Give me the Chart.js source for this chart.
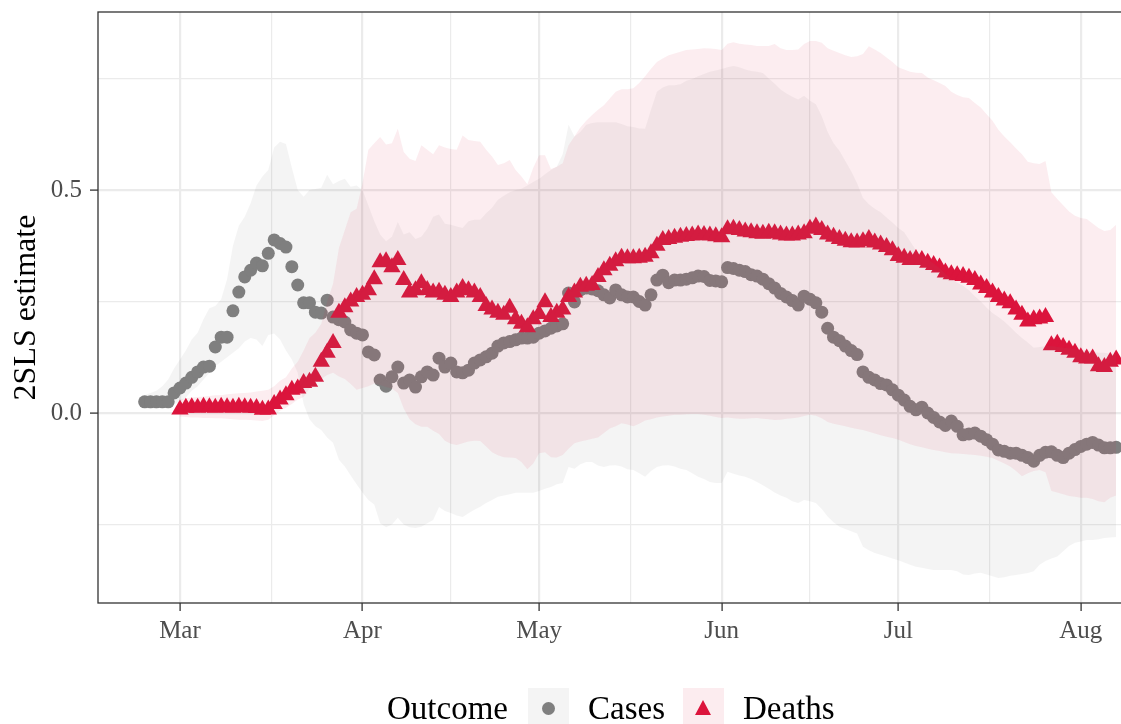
<!DOCTYPE html>
<html>
<head>
<meta charset="utf-8">
<script src="https://cdn.jsdelivr.net/npm/chart.js@4.4.1/dist/chart.umd.min.js"></script>
<style>
  html, body { margin: 0; padding: 0; background: #fff; overflow: hidden; }
  #wrap { position: relative; width: 1121px; height: 724px; overflow: hidden; }
  #chart { position: absolute; left: 0; top: 0; }
  .lg { position: absolute; font-family: "Liberation Serif", "Times New Roman", serif; font-size: 33px; line-height: 33px; color: #000; top: 692px; white-space: nowrap; }
  .key { position: absolute; top: 688px; width: 41px; height: 40px; }
  .dot { position: absolute; width: 13px; height: 13px; border-radius: 50%; background: #7f7f7f; left: 14px; top: 13.5px; }
  .tri { position: absolute; width: 0; height: 0; left: 12px; top: 12px; border-left: 8.5px solid transparent; border-right: 8.5px solid transparent; border-bottom: 15px solid #dc143c; }
</style>
</head>
<body>
<div id="wrap">
  <canvas id="chart" width="1150" height="724"></canvas>
  <span class="lg" style="left:387px">Outcome</span>
  <div class="key" style="left:528px; background:#f4f4f4"><div class="dot"></div></div>
  <span class="lg" style="left:588px">Cases</span>
  <div class="key" style="left:683px; background:#fcecef"><div class="tri"></div></div>
  <span class="lg" style="left:743px">Deaths</span>
</div>
<script>
// --- Data (daily 2SLS estimates and 95% bands) ---
const casesStart  = '2020-02-24';
const deathsStart = '2020-03-01';
const monthStarts = ['2020-03-01', '2020-04-01', '2020-05-01', '2020-06-01', '2020-07-01', '2020-08-01'];
const monthLabels = ['Mar', 'Apr', 'May', 'Jun', 'Jul', 'Aug'];
const yMajor = [0, 0.5];
const yMinor = [-0.25, 0.25, 0.75];

const casesEst = [
  0.025, 0.025, 0.025, 0.025, 0.025, 0.045,
  0.056, 0.067, 0.08, 0.092, 0.103, 0.105, 0.148, 0.17, 0.17, 0.229,
  0.271, 0.305, 0.32, 0.336, 0.33, 0.358, 0.388, 0.38, 0.372, 0.328,
  0.287, 0.247, 0.247, 0.226, 0.224, 0.253, 0.215, 0.209, 0.204, 0.186,
  0.179, 0.175, 0.137, 0.13, 0.074, 0.06, 0.081, 0.103, 0.067, 0.074,
  0.058, 0.081, 0.092, 0.085, 0.123, 0.103, 0.112, 0.092, 0.09, 0.096,
  0.112, 0.119, 0.126, 0.134, 0.15, 0.157, 0.16, 0.164, 0.168, 0.168,
  0.17, 0.179, 0.184, 0.19, 0.195, 0.2, 0.269, 0.249, 0.276, 0.28,
  0.278, 0.274, 0.265, 0.258, 0.276, 0.265, 0.26, 0.26, 0.25, 0.242,
  0.265, 0.298, 0.309, 0.292, 0.298, 0.298, 0.3, 0.303, 0.307, 0.306,
  0.297, 0.296, 0.294, 0.326, 0.324, 0.32, 0.317, 0.31, 0.307, 0.3,
  0.29, 0.28, 0.268, 0.26, 0.252, 0.242, 0.262, 0.255, 0.247, 0.226,
  0.19, 0.17, 0.162, 0.15, 0.14, 0.131, 0.092, 0.08, 0.074, 0.066,
  0.063, 0.052, 0.04, 0.029, 0.015, 0.007, 0.013, 0.0, -0.01, -0.02,
  -0.028, -0.018, -0.03, -0.049, -0.047, -0.045, -0.052, -0.06, -0.07, -0.083,
  -0.086, -0.09, -0.09, -0.095, -0.1, -0.108, -0.095, -0.088, -0.087, -0.095,
  -0.1, -0.09, -0.082, -0.075, -0.07, -0.066, -0.072, -0.078, -0.078, -0.077
];
const casesLo = [
  0.01, 0.01, 0.01, 0.012, 0.015, 0.02,
  0.025, 0.035, 0.05, 0.06, 0.075, 0.09, 0.105, 0.115, 0.125, 0.135,
  0.145, 0.16, 0.168, 0.165, 0.15, 0.175, 0.178, 0.165, 0.14, 0.12,
  0.09, 0.02, -0.014, -0.03, -0.038, -0.055, -0.067, -0.105, -0.12, -0.14,
  -0.16, -0.178, -0.195, -0.205, -0.247, -0.256, -0.25, -0.235, -0.25, -0.256,
  -0.258, -0.255, -0.247, -0.24, -0.211, -0.22, -0.224, -0.23, -0.233, -0.225,
  -0.217, -0.21, -0.202, -0.195, -0.188, -0.185, -0.182, -0.179, -0.179, -0.179,
  -0.179, -0.175, -0.17, -0.166, -0.16, -0.157, -0.121, -0.125, -0.115, -0.11,
  -0.11, -0.118, -0.121, -0.118, -0.117, -0.12, -0.126, -0.128, -0.135, -0.143,
  -0.13, -0.121, -0.118, -0.117, -0.12, -0.125, -0.128, -0.135, -0.143, -0.148,
  -0.155, -0.157, -0.157, -0.132, -0.136, -0.14, -0.143, -0.148, -0.155, -0.162,
  -0.17, -0.178, -0.185, -0.19, -0.198, -0.202, -0.195, -0.198, -0.202, -0.215,
  -0.232, -0.245, -0.255, -0.26, -0.265, -0.27, -0.3, -0.308, -0.314, -0.318,
  -0.322, -0.326, -0.33, -0.335, -0.34, -0.345, -0.347, -0.35, -0.352, -0.352,
  -0.352, -0.352, -0.355, -0.362, -0.363, -0.36, -0.358, -0.362, -0.366, -0.37,
  -0.368, -0.365, -0.363, -0.361, -0.359, -0.355, -0.34, -0.332, -0.326, -0.322,
  -0.31, -0.298, -0.291, -0.288, -0.285, -0.285, -0.283, -0.28, -0.279, -0.278
];
const casesHi = [
  0.04, 0.045, 0.05, 0.06, 0.075, 0.1,
  0.12, 0.14, 0.165, 0.18, 0.21, 0.235, 0.24, 0.255, 0.3, 0.375,
  0.42, 0.44, 0.47, 0.51, 0.53, 0.545, 0.595, 0.608, 0.603, 0.55,
  0.5, 0.485, 0.5, 0.502, 0.505, 0.534, 0.513, 0.52, 0.525, 0.507,
  0.51, 0.5, 0.465, 0.43, 0.4, 0.385, 0.395, 0.428, 0.4, 0.405,
  0.39, 0.395, 0.413, 0.44, 0.445, 0.424, 0.422, 0.418, 0.415, 0.43,
  0.433, 0.433, 0.448, 0.46, 0.478, 0.487, 0.495, 0.5, 0.503, 0.51,
  0.518, 0.525, 0.535, 0.545, 0.552, 0.58, 0.646, 0.62, 0.63, 0.646,
  0.65, 0.652, 0.652, 0.652, 0.652, 0.648, 0.643, 0.641, 0.638, 0.637,
  0.68, 0.72, 0.73, 0.735, 0.735, 0.737, 0.745, 0.749, 0.755, 0.76,
  0.765, 0.768, 0.771, 0.775, 0.778, 0.775, 0.77, 0.767, 0.765, 0.762,
  0.75, 0.738, 0.725, 0.716, 0.709, 0.703, 0.711, 0.7, 0.692, 0.665,
  0.63, 0.605, 0.588, 0.565, 0.542, 0.515, 0.482, 0.468, 0.458, 0.45,
  0.438, 0.427, 0.415, 0.405, 0.385, 0.365, 0.355, 0.345, 0.335, 0.325,
  0.312, 0.3, 0.292, 0.285, 0.275, 0.262, 0.25, 0.236, 0.224, 0.215,
  0.205, 0.193, 0.18, 0.168, 0.158, 0.146, 0.148, 0.15, 0.15, 0.148,
  0.146, 0.145, 0.143, 0.14, 0.14, 0.138, 0.135, 0.135, 0.133, 0.132
];

const deathsEst = [
  0.008, 0.012, 0.013, 0.012, 0.014, 0.013, 0.012, 0.014, 0.013, 0.012,
  0.014, 0.013, 0.012, 0.011, 0.007, 0.008, 0.02, 0.03, 0.04, 0.052,
  0.055, 0.067, 0.07, 0.081, 0.115, 0.135, 0.157, 0.225, 0.237, 0.25,
  0.26, 0.265, 0.275, 0.3, 0.338, 0.34, 0.327, 0.343, 0.298, 0.27,
  0.275, 0.291, 0.276, 0.27, 0.272, 0.265, 0.26, 0.27, 0.28, 0.275,
  0.27, 0.26, 0.24, 0.232, 0.225, 0.22, 0.236, 0.21, 0.2, 0.192,
  0.21, 0.222, 0.248, 0.215, 0.225, 0.232, 0.26, 0.27, 0.283, 0.285,
  0.287, 0.305, 0.32, 0.33, 0.34, 0.348, 0.347, 0.347, 0.348, 0.35,
  0.358, 0.375, 0.388, 0.39, 0.393, 0.395, 0.397, 0.398, 0.4, 0.399,
  0.398, 0.396, 0.394, 0.412, 0.413, 0.41, 0.407, 0.405, 0.403, 0.402,
  0.404, 0.403, 0.4, 0.398, 0.398, 0.4, 0.403, 0.413, 0.418, 0.41,
  0.4, 0.395, 0.39, 0.386, 0.383, 0.382, 0.385, 0.39, 0.382, 0.378,
  0.372, 0.365, 0.352, 0.348, 0.343, 0.345, 0.343, 0.337, 0.332, 0.326,
  0.315, 0.311, 0.309, 0.307, 0.303, 0.298, 0.288, 0.28, 0.27, 0.26,
  0.252, 0.246, 0.232, 0.22, 0.205, 0.21, 0.212, 0.215, 0.152, 0.155,
  0.148, 0.142, 0.135, 0.125, 0.122, 0.122, 0.105, 0.103, 0.115, 0.12
];
const deathsLo = [
  -0.008, -0.009, -0.01, -0.01, -0.011, -0.011, -0.012, -0.012, -0.013, -0.014,
  -0.015, -0.015, -0.016, -0.017, -0.018, -0.015, -0.005, 0.005, 0.012, 0.02,
  0.03, 0.036, 0.055, 0.068, 0.076, 0.085, 0.09, 0.082, 0.076, 0.065,
  0.052, 0.056, 0.06, 0.066, 0.063, 0.058, 0.055, 0.045, 0.01, -0.014,
  -0.025, -0.031, -0.031, -0.04, -0.047, -0.062, -0.069, -0.072, -0.068, -0.064,
  -0.062, -0.063, -0.075, -0.088, -0.095, -0.099, -0.1, -0.101, -0.11, -0.126,
  -0.113, -0.09, -0.088, -0.099, -0.1, -0.094, -0.08, -0.068, -0.064, -0.061,
  -0.058, -0.055, -0.045, -0.035, -0.03, -0.023, -0.026, -0.03, -0.024, -0.017,
  -0.014, -0.01, -0.008, -0.006, -0.004, -0.004, -0.003, -0.002, -0.002, -0.004,
  -0.006, -0.009, -0.011, -0.01, -0.012, -0.013, -0.013, -0.012, -0.011, -0.013,
  -0.014, -0.016, -0.015, -0.013, -0.012, -0.01, -0.007, -0.004, -0.006, -0.012,
  -0.02, -0.024, -0.027, -0.03, -0.033, -0.036, -0.038, -0.042, -0.046, -0.05,
  -0.053, -0.056, -0.06, -0.065, -0.07, -0.074, -0.077, -0.08, -0.083, -0.085,
  -0.088, -0.09, -0.091, -0.092, -0.093, -0.094, -0.096, -0.098, -0.101, -0.107,
  -0.113, -0.12, -0.13, -0.142, -0.135, -0.13, -0.128, -0.133, -0.175, -0.178,
  -0.182, -0.186, -0.188, -0.19, -0.19, -0.193, -0.198, -0.2, -0.19, -0.185
];
const deathsHi = [
  0.03, 0.033, 0.035, 0.036, 0.037, 0.038, 0.04, 0.04, 0.042, 0.043,
  0.044, 0.045, 0.046, 0.048, 0.05, 0.052, 0.06, 0.072, 0.08, 0.1,
  0.115, 0.14, 0.168, 0.18, 0.2, 0.25, 0.29, 0.37, 0.41, 0.45,
  0.458, 0.515, 0.59, 0.605, 0.619, 0.602, 0.605, 0.637, 0.585, 0.57,
  0.565, 0.6, 0.59, 0.58, 0.6, 0.595, 0.592, 0.59, 0.622, 0.612,
  0.61, 0.608, 0.59, 0.575, 0.556, 0.56, 0.567, 0.545, 0.53, 0.513,
  0.55, 0.578, 0.578, 0.547, 0.552, 0.56, 0.6, 0.62, 0.64, 0.655,
  0.668, 0.68, 0.69, 0.705, 0.72, 0.726, 0.726, 0.728, 0.74, 0.755,
  0.772, 0.787, 0.795, 0.802, 0.806, 0.81, 0.814, 0.815, 0.816, 0.818,
  0.817, 0.816, 0.814, 0.828, 0.831, 0.828, 0.826, 0.825, 0.823, 0.823,
  0.823, 0.827, 0.818, 0.814, 0.814, 0.815, 0.827, 0.834, 0.834, 0.83,
  0.818, 0.812, 0.807, 0.802, 0.798, 0.8, 0.805, 0.822, 0.815, 0.807,
  0.797, 0.787, 0.775, 0.77, 0.765, 0.763, 0.762, 0.752, 0.746, 0.74,
  0.733, 0.72, 0.713, 0.708, 0.706, 0.695, 0.685, 0.67, 0.655, 0.635,
  0.62, 0.607, 0.593, 0.58, 0.563, 0.56, 0.558, 0.565, 0.495, 0.48,
  0.466, 0.452, 0.442, 0.437, 0.435, 0.425, 0.415, 0.408, 0.41, 0.422
];

// --- Helpers ---
const DAY = 864e5;
const origin = Date.parse(monthStarts[0]);
const dayOf = s => Math.round((Date.parse(s) - origin) / DAY);
const series = (start, vals) => vals.map((v, i) => ({ x: dayOf(start) + i, y: v }));

const majorX = monthStarts.map(dayOf);
const minorX = majorX.slice(0, -1).map((d, i) => (d + majorX[i + 1]) / 2);
const isMajorX = v => majorX.includes(v);
const isMajorY = v => yMajor.includes(v);

const FONT = '"Liberation Serif", "Times New Roman", serif';
const GRID = '#ebebeb';
const GREY_FILL = 'rgba(128,128,128,0.085)';
const PINK_FILL = 'rgba(220,20,60,0.08)';

const band = (data, fill, bg, order) => ({
  data, fill, backgroundColor: bg, borderWidth: 0, borderColor: 'transparent',
  pointRadius: 0, tension: 0, order
});

// Panel border on top of everything (right edge runs off the picture)
const panelBorder = {
  id: 'panelBorder',
  afterDraw(chart) {
    const { ctx, chartArea: a } = chart;
    ctx.save();
    ctx.strokeStyle = '#333333';
    ctx.lineWidth = 1.3;
    ctx.strokeRect(a.left, a.top, a.right - a.left, a.bottom - a.top);
    ctx.restore();
  }
};

new Chart(document.getElementById('chart'), {
  type: 'line',
  data: {
    datasets: [
      band(series(casesStart, casesHi), '+1', GREY_FILL, 3),
      band(series(casesStart, casesLo), false, GREY_FILL, 3),
      band(series(deathsStart, deathsHi), '+1', PINK_FILL, 1),
      band(series(deathsStart, deathsLo), false, PINK_FILL, 1),
      {
        label: 'Cases', data: series(casesStart, casesEst), showLine: false,
        pointStyle: 'circle', pointRadius: 6.5, pointBackgroundColor: '#7f7f7f',
        pointBorderWidth: 0, order: 6
      },
      {
        label: 'Deaths', data: series(deathsStart, deathsEst), showLine: false,
        pointStyle: 'triangle', pointRadius: 10, pointBackgroundColor: '#dc143c',
        pointBorderWidth: 0, order: 5
      }
    ]
  },
  options: {
    responsive: false,
    animation: false,
    devicePixelRatio: 1,
    layout: { padding: { left: 0, top: 12, right: 15, bottom: 0 } },
    plugins: { legend: { display: false }, tooltip: { enabled: false } },
    scales: {
      x: {
        type: 'linear',
        min: -13.92,
        max: 162.2,
        afterFit: s => { s.height = 121; s.paddingLeft = 0; s.paddingRight = 0; },
        afterBuildTicks: s => {
          s.ticks = [...majorX, ...minorX].sort((a, b) => a - b).map(v => ({ value: v }));
        },
        ticks: {
          autoSkip: false, maxRotation: 0, padding: 5,
          color: '#4d4d4d', font: { family: FONT, size: 25 },
          callback: v => isMajorX(v) ? monthLabels[majorX.indexOf(v)] : ''
        },
        grid: {
          color: GRID,
          lineWidth: c => isMajorX(c.tick.value) ? 2.2 : 1.2,
          tickColor: c => isMajorX(c.tick.value) ? '#333333' : 'transparent',
          tickWidth: 1.3,
          tickLength: 8
        },
        border: { display: false }
      },
      y: {
        type: 'linear',
        min: -0.426,
        max: 0.899,
        afterFit: s => { s.width = 98; s.paddingTop = 0; s.paddingBottom = 0; },
        afterBuildTicks: s => {
          s.ticks = [...yMajor, ...yMinor].sort((a, b) => a - b).map(v => ({ value: v }));
        },
        ticks: {
          autoSkip: false, padding: 8,
          color: '#4d4d4d', font: { family: FONT, size: 25 },
          callback: v => isMajorY(v) ? v.toFixed(1) : ''
        },
        grid: {
          color: GRID,
          lineWidth: c => isMajorY(c.tick.value) ? 2.2 : 1.2,
          tickColor: c => isMajorY(c.tick.value) ? '#333333' : 'transparent',
          tickWidth: 1.3,
          tickLength: 8
        },
        border: { display: false },
        title: {
          display: true, text: '2SLS estimate', color: '#000',
          font: { family: FONT, size: 32 }, padding: { top: 7, bottom: 0 }
        }
      }
    }
  },
  plugins: [panelBorder]
});
</script>
</body>
</html>
